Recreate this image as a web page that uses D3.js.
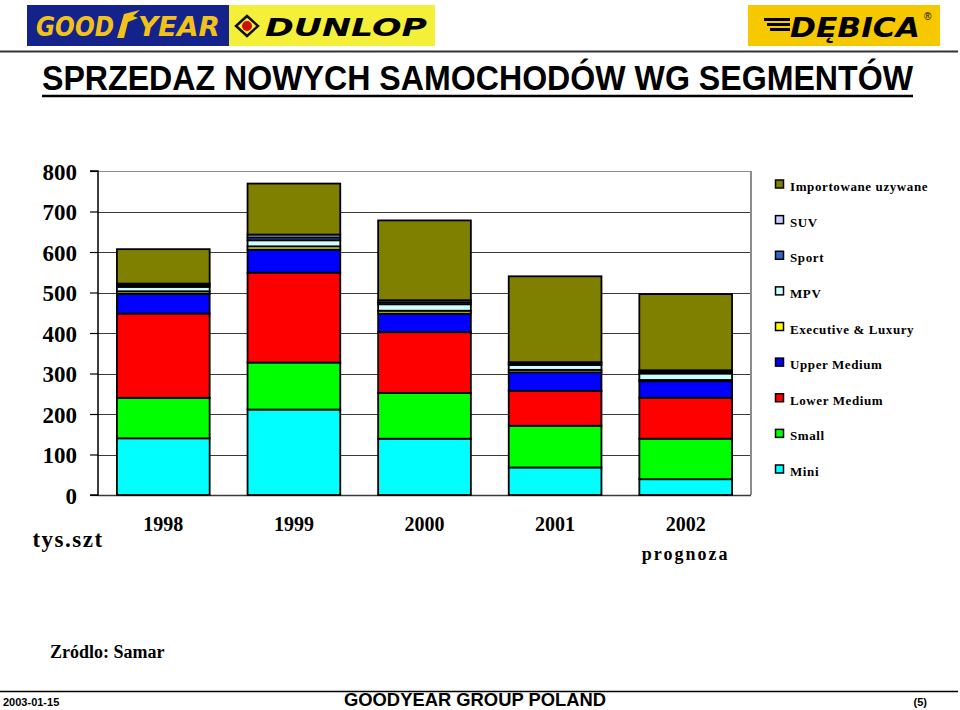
<!DOCTYPE html>
<html><head><meta charset="utf-8">
<script src="https://cdn.jsdelivr.net/npm/d3@7"></script>
<style>body{margin:0;background:#fff;}svg{display:block;}</style>
</head><body>
<script>
const years = ["1998","1999","2000","2001","2002"];
const yearSub = ["","","","","prognoza"];
const segments = ["Mini","Small","Lower Medium","Upper Medium","Executive & Luxury","MPV","Sport","SUV","Importowane uzywane"];
const colors = ["#00ffff","#00ff00","#ff0000","#0000ff","#ffff00","#ccffff","#3366cc","#ccccff","#808000"];
const mini     = [140, 211, 139,  68,  39];
const small    = [100, 116, 113, 103, 100];
const lowerMed = [208, 222, 150,  86, 101];
const upperMed = [ 49,  57,  46,  46,  41];
const execLux  = [  6,   8,   7,   6,   3];
const mpv      = [ 11,  15,  16,  12,  16];
const sport    = [  4,   7,   5,   4,   4];
const suv      = [  4,   7,   5,   3,   4];
const imported = [ 85, 126, 197, 212, 188];
const yTicks = [0,100,200,300,400,500,600,700,800];
const legendOrder = ["Importowane uzywane","SUV","Sport","MPV","Executive & Luxury","Upper Medium","Lower Medium","Small","Mini"];

const seriesVals = [mini, small, lowerMed, upperMed, execLux, mpv, sport, suv, imported];
const table = years.map((y,i)=>{const o={year:y}; segments.forEach((s,k)=>o[s]=seriesVals[k][i]); return o;});
const stack = d3.stack().keys(segments)(table);

const svg = d3.select("body").append("svg").attr("width",960).attr("height",710);

// ---- header logos ----
const hdr = svg.append("g");
hdr.append("rect").attr("x",27).attr("y",5).attr("width",202).attr("height",41).attr("fill","#14238c");
hdr.append("text").attr("x",36).attr("y",36).attr("font-family","DejaVu Sans, sans-serif")
  .attr("font-weight","900").attr("font-style","italic").attr("font-size",26).attr("fill","#f2c21b")
  .attr("textLength",78).attr("lengthAdjust","spacingAndGlyphs").text("GOOD");
hdr.append("path").attr("d","M117,38 L124,14 L140,10 L133,16 L138,18 L128,22 L124,38 Z").attr("fill","#f2c21b");
hdr.append("text").attr("x",138).attr("y",36).attr("font-family","DejaVu Sans, sans-serif")
  .attr("font-weight","900").attr("font-style","italic").attr("font-size",26).attr("fill","#f2c21b")
  .attr("textLength",82).attr("lengthAdjust","spacingAndGlyphs").text("YEAR");
hdr.append("rect").attr("x",229).attr("y",5).attr("width",206).attr("height",41).attr("fill","#f4f03a");
hdr.append("path").attr("d","M236,26 L247,16 L258,26 L247,36 Z").attr("fill","none").attr("stroke","#111").attr("stroke-width",2.5);
hdr.append("circle").attr("cx",247).attr("cy",26).attr("r",5).attr("fill","#d01010");
hdr.append("text").attr("x",265).attr("y",36).attr("font-family","DejaVu Sans, sans-serif")
  .attr("font-weight","900").attr("font-style","italic").attr("font-size",25).attr("fill","#000")
  .attr("textLength",162).attr("lengthAdjust","spacingAndGlyphs").text("DUNLOP");
hdr.append("rect").attr("x",748).attr("y",5).attr("width",192).attr("height",41).attr("fill","#f6c800");
[0,1,2].forEach(i=>hdr.append("rect").attr("x",764+i*3).attr("y",18+i*5).attr("width",26-i*3).attr("height",3).attr("fill","#000"));
hdr.append("text").attr("x",790).attr("y",37).attr("font-family","DejaVu Sans, sans-serif")
  .attr("font-weight","900").attr("font-style","italic").attr("font-size",27).attr("fill","#000")
  .attr("textLength",130).attr("lengthAdjust","spacingAndGlyphs").text("DĘBICA");
hdr.append("text").attr("x",924).attr("y",20).attr("font-family","Arial, sans-serif").attr("font-size",10).attr("fill","#000").text("®");
svg.append("line").attr("x1",0).attr("x2",958).attr("y1",51.5).attr("y2",51.5).attr("stroke","#333").attr("stroke-width",2);

// ---- title ----
svg.append("text").attr("transform","translate(42,90) scale(1,1.15)").attr("font-family","Liberation Sans, Arial, sans-serif").attr("font-weight","bold")
  .attr("font-size",30).attr("fill","#000").attr("textLength",871).attr("lengthAdjust","spacingAndGlyphs")
  .text("SPRZEDAZ NOWYCH SAMOCHODÓW WG SEGMENTÓW");
svg.append("line").attr("x1",42).attr("x2",913).attr("y1",96).attr("y2",96).attr("stroke","#000").attr("stroke-width",2.5);

// ---- chart ----
const x0 = 98, x1 = 751, yTop = 171, yBot = 495;
const x = d3.scaleBand().domain(years).range([x0,x1]).paddingInner(0.29).paddingOuter(0.145);
const y = d3.scaleLinear().domain([0,800]).range([yBot,yTop]);

const grid = svg.append("g");
grid.selectAll("line").data(yTicks.filter(t=>t>0)).join("line")
  .attr("x1",x0).attr("x2",x1).attr("y1",d=>Math.round(y(d))+0.5).attr("y2",d=>Math.round(y(d))+0.5)
  .attr("stroke",d=>d===800?"#8c8c8c":"#3a3a3a").attr("stroke-width",1.2);
svg.append("line").attr("x1",x1).attr("x2",x1).attr("y1",yTop).attr("y2",yBot).attr("stroke","#8c8c8c").attr("stroke-width",2);
svg.append("line").attr("x1",x0).attr("x2",x1).attr("y1",yBot+0.5).attr("y2",yBot+0.5).attr("stroke","#3a3a3a").attr("stroke-width",1.5);

const barsG = svg.append("g");
stack.forEach((layer,k)=>{
  barsG.append("g").selectAll("rect").data(layer).join("rect")
    .attr("x",d=>x(d.data.year)).attr("width",x.bandwidth())
    .attr("y",d=>y(d[1])).attr("height",d=>y(d[0])-y(d[1]))
    .attr("fill",colors[k]).attr("stroke","#000").attr("stroke-width",1.8);
});

const axis = svg.append("g").attr("transform",`translate(${x0},0)`)
  .call(d3.axisLeft(y).tickValues(yTicks).tickSize(8).tickPadding(13).tickFormat(d3.format("d")));
axis.select(".domain").attr("stroke","#000").attr("stroke-width",1.5).attr("d",`M-8,${yTop}H0V${yBot}H-8`);
axis.selectAll(".tick line").attr("stroke","#000").attr("stroke-width",1.2);
axis.selectAll(".tick text").attr("font-family","Liberation Serif, Times New Roman, serif").attr("font-weight","bold")
  .attr("font-size",23).attr("fill","#000").attr("dy","0.36em");
svg.append("text").attr("x",68).attr("y",547).attr("text-anchor","middle").attr("font-family","Liberation Serif, Times New Roman, serif")
  .attr("font-weight","bold").attr("font-size",23).attr("letter-spacing",1.5).text("tys.szt");

const xl = svg.append("g");
xl.selectAll("text.yr").data(years).join("text").attr("class","yr")
  .attr("x",d=>x(d)+x.bandwidth()/2).attr("y",531).attr("text-anchor","middle")
  .attr("font-family","Liberation Serif, Times New Roman, serif").attr("font-weight","bold").attr("font-size",20).text(d=>d);
xl.selectAll("text.sub").data(years.map((d,i)=>({d,s:yearSub[i]})).filter(o=>o.s)).join("text").attr("class","sub")
  .attr("x",o=>x(o.d)+x.bandwidth()/2).attr("y",560).attr("text-anchor","middle").attr("letter-spacing",2)
  .attr("font-family","Liberation Serif, Times New Roman, serif").attr("font-weight","bold").attr("font-size",18).text(o=>o.s);

// ---- legend ----
const lg = svg.append("g");
const ly = d3.scalePoint().domain(legendOrder).range([187,472]);
legendOrder.forEach(name=>{
  const k = segments.indexOf(name);
  const g = lg.append("g").attr("transform",`translate(775,${ly(name)})`);
  g.append("rect").attr("x",0.5).attr("y",-7).attr("width",8).attr("height",8).attr("fill",colors[k]).attr("stroke","#000").attr("stroke-width",1.5);
  g.append("text").attr("x",15).attr("y",4).attr("font-family","Liberation Serif, Times New Roman, serif").attr("font-weight","bold")
    .attr("font-size",13).attr("letter-spacing",0.6).text(name);
});

// ---- footer ----
svg.append("text").attr("x",50).attr("y",658).attr("font-family","Liberation Serif, Times New Roman, serif").attr("font-weight","bold")
  .attr("font-size",18).text("Zródlo: Samar");
svg.append("line").attr("x1",0).attr("x2",958).attr("y1",691.5).attr("y2",691.5).attr("stroke","#000").attr("stroke-width",1.5);
svg.append("text").attr("x",3).attr("y",706).attr("font-family","Liberation Sans Narrow, Arial Narrow, Arial, sans-serif")
  .attr("font-size",11).attr("font-weight","bold").text("2003-01-15");
svg.append("text").attr("x",475).attr("y",706).attr("text-anchor","middle").attr("font-family","Liberation Sans, Arial, sans-serif")
  .attr("font-weight","bold").attr("font-size",19).attr("textLength",262).attr("lengthAdjust","spacingAndGlyphs").text("GOODYEAR GROUP POLAND");
svg.append("text").attr("x",927).attr("y",706).attr("text-anchor","end").attr("font-family","Liberation Sans, Arial, sans-serif")
  .attr("font-size",11).attr("font-weight","bold").text("(5)");
</script>
</body></html>
